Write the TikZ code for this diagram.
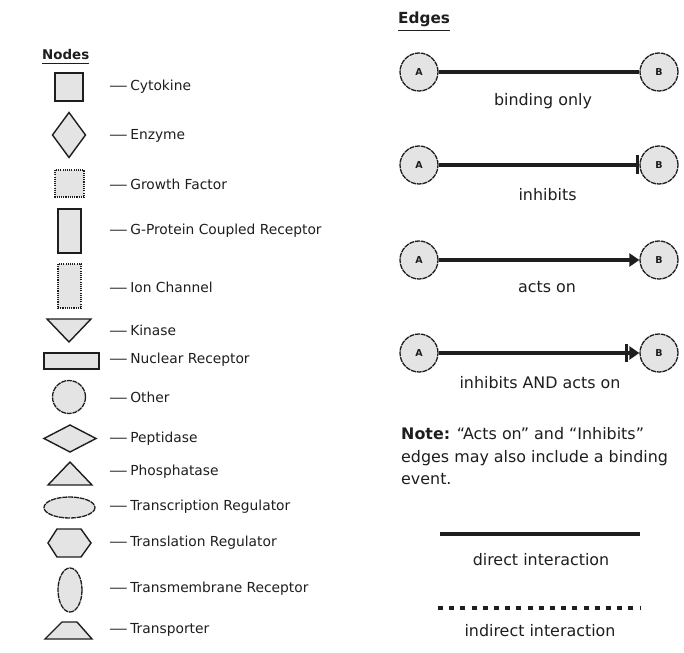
\documentclass[tikz,border=0pt]{standalone}
\usepackage{fontspec}
\setmainfont{DejaVu Sans}
\usetikzlibrary{arrows.meta}
\definecolor{shapefill}{HTML}{E4E4E4}
\definecolor{ink}{HTML}{1E1E1E}
\newcommand{\ldash}{\scalebox{1.35}[1]{—}\hspace{2.5pt}}
\begin{document}
\begin{tikzpicture}[x=1pt,y=-1pt,
  every node/.style={text=ink},
  solidshape/.style={draw=ink,fill=shapefill,line width=1.4pt,line join=miter},
  dotshape/.style={draw=ink,fill=shapefill,line width=1.2pt,dash pattern=on 1.1pt off 1.1pt},
  curveshape/.style={draw=ink,fill=shapefill,line width=1.3pt,dash pattern=on 5pt off 0.8pt},
  nodelabel/.style={anchor=west,inner sep=0pt,font=\fontsize{13.8}{16}\selectfont},
  heading/.style={inner sep=0pt,font=\bfseries},
  endpoint/.style={circle,curveshape,minimum size=38pt,inner sep=0pt,
    font=\fontsize{9.5}{10}\selectfont\bfseries},
  edge/.style={draw=ink,line width=3.3pt},
  edgelabel/.style={inner sep=0pt,font=\fontsize{15.9}{18}\selectfont},
  actson/.style={-{Triangle[length=10pt,width=13pt]}},
  inhib/.style={-{Bar[width=19pt,line width=3.5pt]}},
  both/.style={-{Bar[width=18pt,line width=3pt,sep=1pt] Triangle[length=10pt,width=13pt]}}
]
\useasboundingbox (0,0) rectangle (684,652);

% ---------------- node legend ----------------
\node[heading,font=\fontsize{13.4}{15}\selectfont\bfseries,anchor=west] (nodeshead) at (42,55) {Nodes};
\draw[ink,line width=1pt] (nodeshead.south west) ++(0,3) coordinate (nu1) -- (nu1 -| nodeshead.east);

% cytokine
\draw[solidshape] (55,73) rectangle (83,101);
\node[nodelabel] (lcyto) at (109,87) {\ldash Cytokine};
% enzyme
\draw[solidshape] (69,112.5) -- (85.5,135) -- (69,157.5) -- (52.5,135) -- cycle;
\node[nodelabel] (lenz) at (109,135.5) {\ldash Enzyme};
% growth factor
\draw[dotshape] (55,170) rectangle (84,197);
\node[nodelabel] (lgrow) at (109,184) {\ldash Growth Factor};
% g-protein coupled receptor
\draw[solidshape] (58,209) rectangle (81,253);
\node[nodelabel] (lgpcr) at (109,231) {\ldash G-Protein Coupled Receptor};
% ion channel
\draw[dotshape] (58,264) rectangle (81,308);
\node[nodelabel] (lion) at (109,287) {\ldash Ion Channel};
% kinase
\draw[solidshape] (47,319) -- (91,319) -- (69,342) -- cycle;
\node[nodelabel] (lkin) at (109,330) {\ldash Kinase};
% nuclear receptor
\draw[solidshape] (44,353) rectangle (99,369);
\node[nodelabel] (lnuc) at (109,360) {\ldash Nuclear Receptor};
% other
\draw[curveshape] (69,397) circle[radius=16.5];
\node[nodelabel] (loth) at (109,397) {\ldash Other};
% peptidase
\draw[solidshape] (70,425) -- (96,438.5) -- (70,452) -- (44,438.5) -- cycle;
\node[nodelabel] (lpep) at (109,439) {\ldash Peptidase};
% phosphatase
\draw[solidshape] (48,485) -- (92,485) -- (70,462) -- cycle;
\node[nodelabel] (lpho) at (109,472) {\ldash Phosphatase};
% transcription regulator
\draw[curveshape] (69.5,507.5) ellipse[x radius=25.5,y radius=10.5];
\node[nodelabel] (ltsc) at (109,507) {\ldash Transcription Regulator};
% translation regulator
\draw[solidshape] (48,543) -- (57,529) -- (81,529) -- (91,543) -- (81,557) -- (57,557) -- cycle;
\node[nodelabel] (ltsl) at (109,542.5) {\ldash Translation Regulator};
% transmembrane receptor
\draw[curveshape] (70,590) ellipse[x radius=12,y radius=22];
\node[nodelabel] (ltmr) at (109,589) {\ldash Transmembrane Receptor};
% transporter
\draw[solidshape] (45,639) -- (92,639) -- (77,622) -- (62,622) -- cycle;
\node[nodelabel] (ltra) at (109,630) {\ldash Transporter};

% ---------------- edge legend ----------------
\node[heading,font=\fontsize{15.3}{17}\selectfont\bfseries,anchor=west] (edgeshead) at (398,19) {Edges};
\draw[ink,line width=1.2pt] (edgeshead.south west) ++(0,3.5) coordinate (eu1) -- (eu1 -| edgeshead.east);

% binding only
\node[endpoint] (a1) at (419,72) {A};
\node[endpoint] (b1) at (659,72) {B};
\draw[edge] (a1) -- (b1);
\node[edgelabel] (t1) at (543,101) {binding only};

% inhibits
\node[endpoint] (a2) at (419,165) {A};
\node[endpoint] (b2) at (659,165) {B};
\draw[edge,inhib] (a2) -- (b2);
\node[edgelabel] (t2) at (547.5,195) {inhibits};

% acts on
\node[endpoint] (a3) at (419,260) {A};
\node[endpoint] (b3) at (659,260) {B};
\draw[edge,actson] (a3) -- (b3);
\node[edgelabel] (t3) at (547,287) {acts on};

% inhibits and acts on
\node[endpoint] (a4) at (419,353) {A};
\node[endpoint] (b4) at (659,353) {B};
\draw[edge,both] (a4) -- (b4);
\node[edgelabel] (t4) at (540,383) {inhibits AND acts on};

% note
\node[anchor=north west,inner sep=0pt,align=left,
      font=\fontsize{15.9}{22.8}\selectfont] (note) at (401,427)
  {\textbf{Note:} “Acts on” and “Inhibits”\\edges may also include a binding\\event.};

% direct / indirect interaction
\coordinate (d1) at (440,534);
\coordinate (d2) at (640,534);
\draw[ink,line width=4pt] (d1) -- (d2);
\node[edgelabel] (t5) at (541,560) {direct interaction};

\coordinate (i1) at (438,608);
\coordinate (i2) at (640,608);
\draw[ink,line width=3.2pt,dash pattern=on 5pt off 6.2pt] (i1) -- (i2);
\node[edgelabel] (t6) at (540,631) {indirect interaction};
\end{tikzpicture}
\end{document}
